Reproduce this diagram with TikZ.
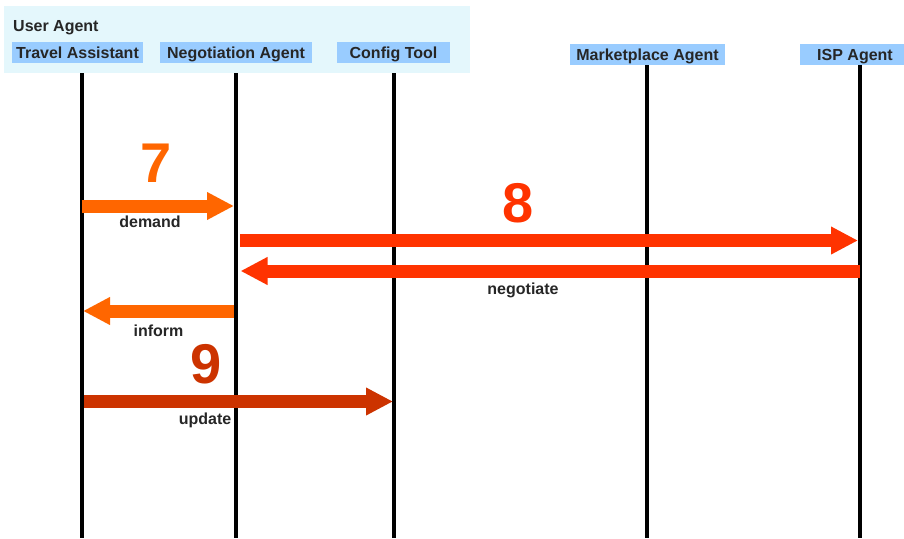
\documentclass[tikz,border=0pt]{standalone}
\usepackage{fontspec}
\setmainfont{Liberation Sans}
\usetikzlibrary{arrows.meta}
\definecolor{bgblue}{HTML}{E4F7FC}
\definecolor{hdrblue}{HTML}{99CCFF}
\definecolor{txtgray}{HTML}{262626}
\definecolor{msgorange}{HTML}{FF6600}
\definecolor{msgred}{HTML}{FF3300}
\definecolor{msgdark}{HTML}{CC3300}
\begin{document}
\begin{tikzpicture}[x=1pt,y=-1pt,
    hdr/.style={fill=hdrblue,inner sep=0pt,minimum height=21pt,text=txtgray,
      text height=12.5pt,text depth=0pt,
      font=\fontsize{16}{19}\selectfont\bfseries},
    lbl/.style={text=txtgray,inner sep=0pt,anchor=base,
      font=\fontsize{16}{19}\selectfont\bfseries},
    num/.style={inner sep=0pt,font=\fontsize{56}{60}\selectfont\bfseries},
    life/.style={line width=4pt},
    msg/.style={line width=13pt,-{Triangle[length=27pt,width=26pt]}}]
  \useasboundingbox (0,0) rectangle (904,538);
  % user agent group
  \fill[bgblue] (4,6) rectangle (470,73);
  \node[lbl,anchor=base west] (ua) at (13,31) {User Agent};
  % headers
  \node[hdr,minimum width=131pt] (ta) at (77.5,52.5) {Travel Assistant};
  \node[hdr,minimum width=152pt] (na) at (236,52.5) {Negotiation Agent};
  \node[hdr,minimum width=113pt] (ct) at (393.5,52.5) {Config Tool};
  \node[hdr,minimum width=155pt] (ma) at (647.5,54.5) {Marketplace Agent};
  \node[hdr,minimum width=110pt] (isp) at (855,54.5) {ISP Agent};
  % lifelines
  \coordinate (lta) at (82,73);
  \coordinate (lna) at (236,73);
  \coordinate (lct) at (394,73);
  \coordinate (lma) at (647,65);
  \coordinate (lisp) at (860,65);
  \foreach \l in {lta,lna,lct,lma,lisp}
    \draw[life] (\l) -- (\l |- 0,538);
  % step 7
  \node[num,text=msgorange] (n7) at (156,163) {7};
  \draw[msg,msgorange,shorten >=2pt] (lta |- 0,206) -- (lna |- 0,206);
  \node[lbl] (demand) at (150,227) {demand};
  % step 8
  \node[num,text=msgred] (n8) at (518,203) {8};
  \draw[msg,msgred,shorten <=4pt,shorten >=2pt] (lna |- 0,240.5) -- (lisp |- 0,240.5);
  \draw[msg,msgred,shorten >=4.5pt] (lisp |- 0,271) -- (lna |- 0,271);
  \node[lbl] (negotiate) at (523,294) {negotiate};
  \draw[msg,msgorange,shorten <=2pt,shorten >=1pt] (lna |- 0,311) -- (lta |- 0,311);
  \node[lbl] (inform) at (158.5,336) {inform};
  % step 9
  \node[num,text=msgdark] (n9) at (206.5,364) {9};
  \draw[msg,msgdark,shorten <=2pt,shorten >=1pt] (lta |- 0,401.5) -- (lct |- 0,401.5);
  \node[lbl] (update) at (205,424) {update};
\end{tikzpicture}
\end{document}
